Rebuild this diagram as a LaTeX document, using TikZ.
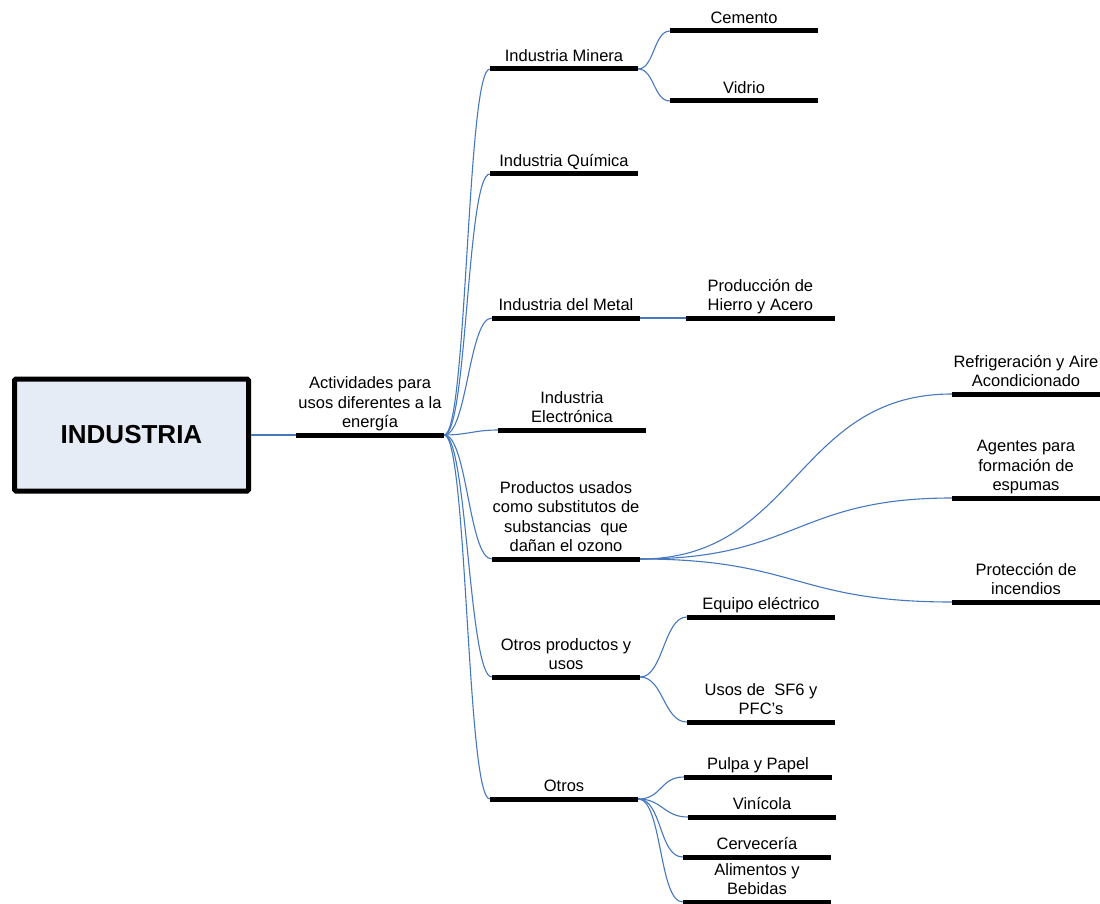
\documentclass[tikz,border=0pt]{standalone}
\usepackage{fontspec}
\setmainfont{Liberation Sans}
\usepackage{tikz}
\usetikzlibrary{positioning}
\definecolor{linkblue}{RGB}{70,120,190}
\definecolor{boxblue}{RGB}{230,236,246}

\begin{document}
\begin{tikzpicture}[x=1pt,y=-1pt,
    bar/.style={draw=black, line width=5pt},
    topic/.style={anchor=south, align=center, minimum width=148pt, inner xsep=0pt, inner ysep=1.6pt,
        font=\fontsize{16.5}{19.3}\selectfont, execute at end node=\strut,
        append after command={(\tikzlastnode.south west) edge[bar] (\tikzlastnode.south east)}},
    link/.style={draw=linkblue, line width=1.1pt}]
    \useasboundingbox (0,0) rectangle (1100,904);
    \node[draw, line width=5pt, fill=boxblue, rounded corners=1.5pt, minimum width=234pt, minimum height=112pt, inner sep=0pt, font=\fontsize{26}{30}\selectfont\bfseries](industria) at (131.5,435){INDUSTRIA};
    \node[topic](act) at (370,435){Actividades para\\usos diferentes a la\\energía};
    \draw[link](industria.east)--(act.south west);
    \node[topic](minera) at (564,69){Industria Minera};
    \node[topic](cemento) at (744,31){Cemento};
    \node[topic, below=70pt of cemento.south, anchor=south](vidrio){Vidrio};
    \node[topic](quimica) at (564,174){Industria Química};
    \node[topic](metal) at (566,318){Industria del Metal};
    \node[topic, right=46pt of metal.south east, anchor=south west](hierro){Producción de\\Hierro y Acero};
    \node[topic](electronica) at (572,430){Industria\\Electrónica};
    \node[topic](productos) at (566,559){Productos usados\\como substitutos de\\substancias\ \ que\\dañan el ozono};
    \node[topic](refrig) at (1026,394){Refrigeración y Aire\\Acondicionado};
    \node[topic](agentes) at (1026,498){Agentes para\\formación de\\espumas};
    \node[topic](proteccion) at (1026,602){Protección de\\incendios};
    \node[topic](otrosprod) at (566,677){Otros productos y\\usos};
    \node[topic](equipo) at (761,617){Equipo eléctrico};
    \node[topic](usos) at (761,722){Usos de\ \ SF6 y\\PFC's};
    \node[topic](otros) at (564,799){Otros};
    \node[topic](pulpa) at (758,777){Pulpa y Papel};
    \node[topic](vinicola) at (762,817){Vinícola};
    \node[topic](cerveza) at (757,857){Cervecería};
    \node[topic](alimentos) at (757,902){Alimentos y\\Bebidas};
    \foreach \n in {minera,quimica,metal,electronica,productos,otrosprod,otros}
        \draw[link](act.south east) .. controls +(23,0) and +(-23,0) .. (\n.south west);
    \foreach \n in {cemento,vidrio}
        \draw[link](minera.south east) .. controls +(16,0) and +(-16,0) .. (\n.south west);
    \draw[link](metal.south east)--(hierro.south west);
    \foreach \n in {refrig,agentes,proteccion}
        \draw[link](productos.south east) .. controls +(156,0) and +(-156,0) .. (\n.south west);
    \foreach \n in {equipo,usos}
        \draw[link](otrosprod.south east) .. controls +(23,0) and +(-23,0) .. (\n.south west);
    \foreach \n in {pulpa,vinicola,cerveza,alimentos}
        \draw[link](otros.south east) .. controls +(24,0) and +(-24,0) .. (\n.south west);
\end{tikzpicture}
\end{document}
